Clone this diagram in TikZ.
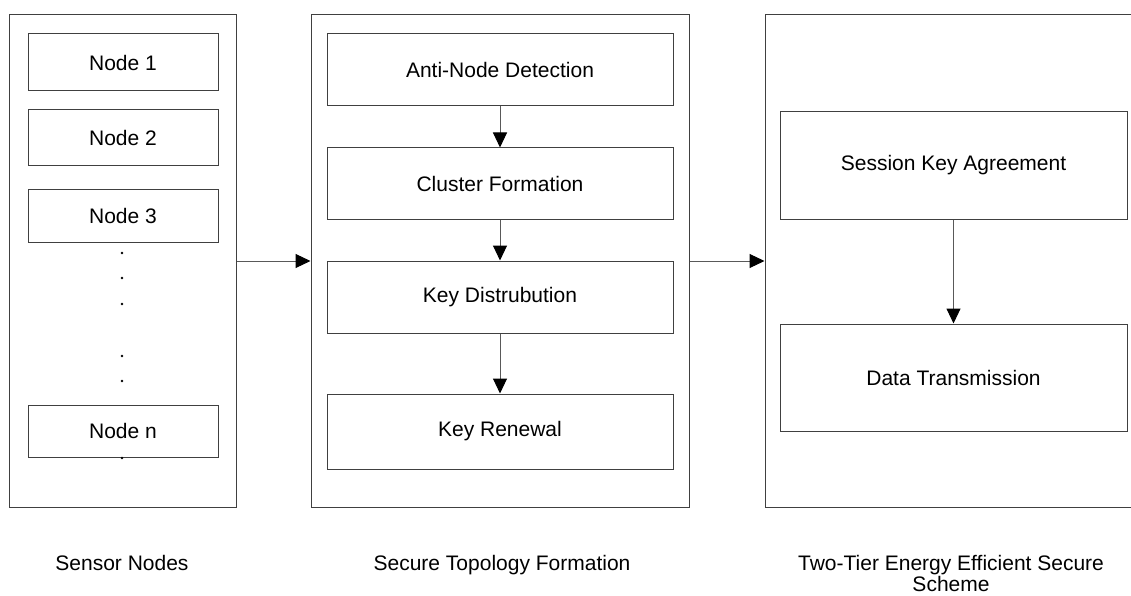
\documentclass[tikz,border=0pt]{standalone}
\usepackage{fontspec}
\setmainfont{Liberation Sans}
\usetikzlibrary{arrows.meta}

\begin{document}
\begin{tikzpicture}[x=1pt,y=-1pt,
  every node/.style={font=\fontsize{21}{21}\selectfont},
  panel/.style={draw=black!75, line width=1pt, inner sep=0pt, minimum width=#1, minimum height=492pt},
  stepbox/.style={draw=black!75, line width=1pt, inner sep=0pt, minimum width=#1},
  flow/.style={draw=black!65, line width=1pt, -{Triangle[length=15pt,width=14pt,color=black,fill=black]}},
  dotmark/.style={circle, fill=black, inner sep=0pt, minimum size=2.6pt},
  caption/.style={align=center, inner sep=0pt}
]
\useasboundingbox (0,0) rectangle (1131,596);
\clip (0,0) rectangle (1131,596);

% three stage panels
\node[panel=227pt] (sensors)  at (122.5,261) {};
\node[panel=378pt] (topology) at (500,261) {};
\node[panel=377pt] (scheme)   at (953.5,261) {};

% sensor nodes
\node[stepbox=190pt, minimum height=57pt] (n1) at (123,62.5)  {Node 1};
\node[stepbox=190pt, minimum height=56pt] (n2) at (123,138)   {Node 2};
\node[stepbox=190pt, minimum height=53pt] (n3) at (123,215.5) {Node 3};
\node[stepbox=190pt, minimum height=52pt] (nn) at (123,431)   {Node n};
\foreach \y/\k in {253/1,278/2,304/3,356/4,381/5,458/6}
  \node[dotmark] (d\k) at (122,\y) {};

% secure topology formation steps
\node[stepbox=346pt, minimum height=72pt] (anti)    at (500,70)    {Anti-Node Detection};
\node[stepbox=346pt, minimum height=71pt] (cluster) at (500,183.5) {Cluster Formation};
\node[stepbox=346pt, minimum height=72pt] (keydist) at (500,297)   {Key Distrubution};
\node[stepbox=346pt, minimum height=75pt] (renew)   at (500,431.5) {Key Renewal};

% two-tier scheme steps
\node[stepbox=347pt, minimum height=107pt] (session) at (953.5,165.5) {Session Key Agreement};
\node[stepbox=347pt, minimum height=107pt] (data)    at (953.5,377.5) {Data Transmission};

% connectors
\draw[flow] (sensors.east |- 0,261) -- (topology.west |- 0,261);
\draw[flow] (topology.east |- 0,261) -- (scheme.west |- 0,261);
\draw[flow] (anti) -- (cluster);
\draw[flow] (cluster) -- (keydist);
\draw[flow] (keydist) -- (renew);
\draw[flow] (session) -- (data);

% panel captions
\node[caption, anchor=base] (capA) at (122,570) {Sensor Nodes};
\node[caption, anchor=base] (capB) at (502,570) {Secure Topology Formation};
\node[caption, anchor=north] (capC) at (951,555) {Two-Tier Energy Efficient Secure\\Scheme};
\end{tikzpicture}
\end{document}
